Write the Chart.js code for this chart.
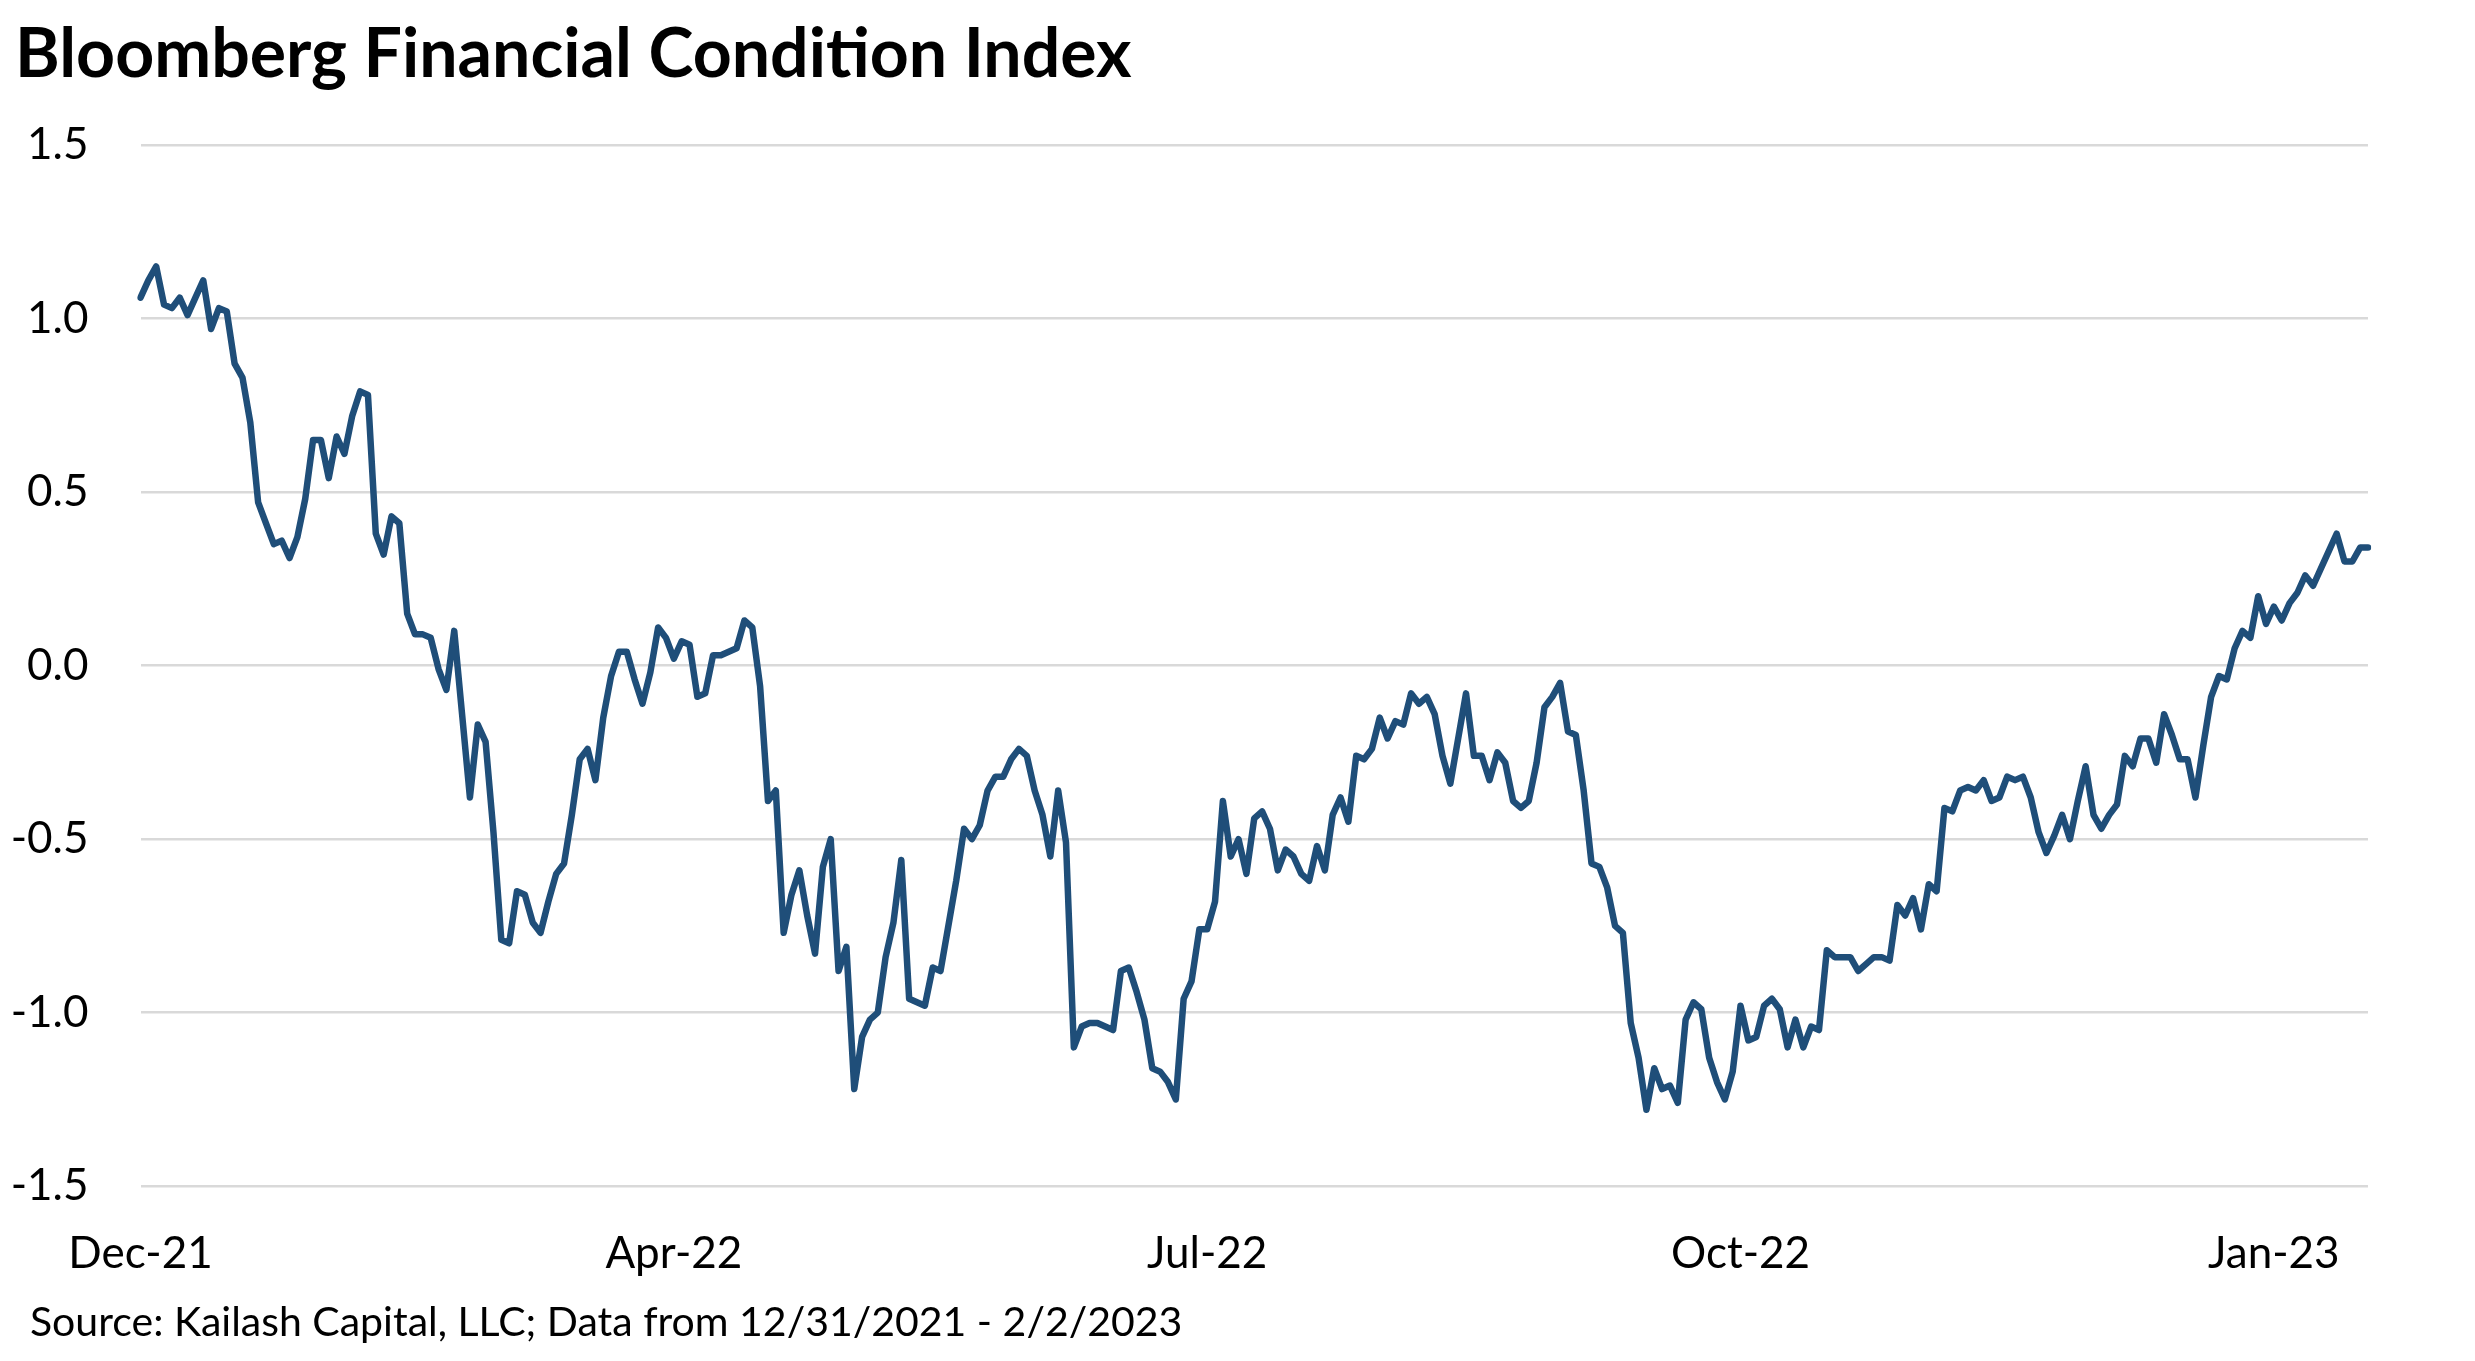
<!DOCTYPE html>
<html>
<head>
<meta charset="utf-8">
<title>Bloomberg Financial Condition Index</title>
<script src="https://cdn.jsdelivr.net/npm/chart.js@4.4.1/dist/chart.umd.min.js"></script>
<style>
  html, body { margin: 0; padding: 0; background: #fff; }
  #wrap { position: relative; width: 2475px; height: 1361px; overflow: hidden; }
  #chart { position: absolute; left: 0; top: 0; }
  .title {
    position: absolute; left: 15px; top: 17px;
    font: bold 68px Lato, sans-serif; line-height: 1; color: #000; white-space: nowrap;
  }
  .source {
    position: absolute; left: 30px; top: 1300px;
    font: 41px Lato, sans-serif; line-height: 1; color: #000; white-space: nowrap;
  }
</style>
</head>
<body>
<div id="wrap">
  <div class="title">Bloomberg Financial Condition Index</div>
  <canvas id="chart" width="2475" height="1361"></canvas>
  <div class="source">Source: Kailash Capital, LLC; Data from 12/31/2021 - 2/2/2023</div>
</div>
<script>
// ===== DATA =====
// one value per weekday, 12/31/2021 .. 2/2/2023
const tickLabels = ['Dec-21', 'Apr-22', 'Jul-22', 'Oct-22', 'Jan-23'];
const tickEvery = 68; // a date label every 68 points

const fciValues = [
  1.06, 1.11, 1.15, 1.04, 1.03, 1.06, 1.01, 1.06, 1.11, 0.97,
  1.03, 1.02, 0.87, 0.83, 0.70, 0.47, 0.41, 0.35, 0.36, 0.31,
  0.37, 0.48, 0.65, 0.65, 0.54, 0.66, 0.61, 0.72, 0.79, 0.78,
  0.38, 0.32, 0.43, 0.41, 0.15, 0.09, 0.09, 0.08, -0.01, -0.07,
  0.10, -0.14, -0.38, -0.17, -0.22, -0.48, -0.79, -0.80, -0.65, -0.66,
  -0.74, -0.77, -0.68, -0.60, -0.57, -0.43, -0.27, -0.24, -0.33, -0.15,
  -0.03, 0.04, 0.04, -0.04, -0.11, -0.02, 0.11, 0.08, 0.02, 0.07,
  0.06, -0.09, -0.08, 0.03, 0.03, 0.04, 0.05, 0.13, 0.11, -0.06,
  -0.39, -0.36, -0.77, -0.66, -0.59, -0.72, -0.83, -0.58, -0.50, -0.88,
  -0.81, -1.22, -1.07, -1.02, -1.00, -0.84, -0.74, -0.56, -0.96, -0.97,
  -0.98, -0.87, -0.88, -0.75, -0.62, -0.47, -0.50, -0.46, -0.36, -0.32,
  -0.32, -0.27, -0.24, -0.26, -0.36, -0.43, -0.55, -0.36, -0.51, -1.10,
  -1.04, -1.03, -1.03, -1.04, -1.05, -0.88, -0.87, -0.94, -1.02, -1.16,
  -1.17, -1.20, -1.25, -0.96, -0.91, -0.76, -0.76, -0.68, -0.39, -0.55,
  -0.50, -0.60, -0.44, -0.42, -0.47, -0.59, -0.53, -0.55, -0.60, -0.62,
  -0.52, -0.59, -0.43, -0.38, -0.45, -0.26, -0.27, -0.24, -0.15, -0.21,
  -0.16, -0.17, -0.08, -0.11, -0.09, -0.14, -0.26, -0.34, -0.21, -0.08,
  -0.26, -0.26, -0.33, -0.25, -0.28, -0.39, -0.41, -0.39, -0.28, -0.12,
  -0.09, -0.05, -0.19, -0.20, -0.36, -0.57, -0.58, -0.64, -0.75, -0.77,
  -1.03, -1.13, -1.28, -1.16, -1.22, -1.21, -1.26, -1.02, -0.97, -0.99,
  -1.13, -1.20, -1.25, -1.17, -0.98, -1.08, -1.07, -0.98, -0.96, -0.99,
  -1.10, -1.02, -1.10, -1.04, -1.05, -0.82, -0.84, -0.84, -0.84, -0.88,
  -0.86, -0.84, -0.84, -0.85, -0.69, -0.72, -0.67, -0.76, -0.63, -0.65,
  -0.41, -0.42, -0.36, -0.35, -0.36, -0.33, -0.39, -0.38, -0.32, -0.33,
  -0.32, -0.38, -0.48, -0.54, -0.49, -0.43, -0.50, -0.39, -0.29, -0.43,
  -0.47, -0.43, -0.40, -0.26, -0.29, -0.21, -0.21, -0.28, -0.14, -0.20,
  -0.27, -0.27, -0.38, -0.23, -0.09, -0.03, -0.04, 0.05, 0.10, 0.08,
  0.20, 0.12, 0.17, 0.13, 0.18, 0.21, 0.26, 0.23, 0.28, 0.33,
  0.38, 0.30, 0.30, 0.34, 0.34
];

const yMin = -1.5;
const yMax = 1.5;
const yStep = 0.5;

// category labels: only every tickEvery-th point carries a date
const categories = fciValues.map((_, i) =>
  (i % tickEvery === 0 && tickLabels[i / tickEvery]) || '');

// ===== CHART =====
Chart.defaults.font.family = 'Lato, sans-serif';
Chart.defaults.color = '#000';

new Chart(document.getElementById('chart'), {
  type: 'line',
  data: {
    labels: categories,
    datasets: [{
      label: 'Bloomberg Financial Condition Index',
      data: fciValues,
      borderColor: '#1f4e79',
      borderWidth: 6.5,
      borderJoinStyle: 'round',
      borderCapStyle: 'round',
      pointRadius: 0,
      tension: 0,
      fill: false
    }]
  },
  options: {
    responsive: false,
    animation: false,
    devicePixelRatio: 1,
    layout: { padding: { top: 145, left: 0, right: 107, bottom: 40 } },
    plugins: {
      legend: { display: false },
      tooltip: { enabled: false }
    },
    scales: {
      x: {
        type: 'category',
        offset: false,
        grid: { display: false, drawTicks: false },
        border: { display: false },
        ticks: {
          autoSkip: false,
          maxRotation: 0,
          minRotation: 0,
          padding: 41,
          font: { size: 44 },
          color: '#000'
        }
      },
      y: {
        min: yMin,
        max: yMax,
        afterFit: scale => { scale.width = 140.5; },
        grid: { color: '#d9d9d9', lineWidth: 2.5, drawTicks: false },
        border: { display: false },
        ticks: {
          stepSize: yStep,
          padding: 52,
          font: { size: 44 },
          color: '#000',
          callback: v => Number(v).toFixed(1)
        }
      }
    }
  }
});
</script>
</body>
</html>
